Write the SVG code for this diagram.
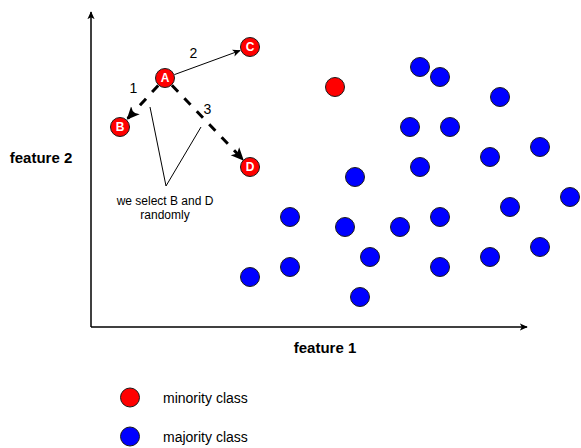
<svg xmlns="http://www.w3.org/2000/svg" width="581" height="448" viewBox="0 0 581 448">
  <defs>
    <style>
      text { font-family: "Liberation Sans", Arial, sans-serif; fill: #000; }
      .axis { stroke: #000; stroke-width: 1.5; fill: none; }
      .thin { stroke: #000; stroke-width: 1; fill: none; }
      .dash { stroke: #000; stroke-width: 3; fill: none; stroke-dasharray: 9 9; }
      .red { fill: #ff0000; stroke: #1a1a1a; stroke-width: 1; }
      .blue { fill: #0000ff; stroke: #1a1a1a; stroke-width: 1; }
      .nlabel { font-size: 12px; font-weight: bold; fill: #fff; text-anchor: middle; }
      .feat { font-size: 15px; font-weight: bold; text-anchor: middle; }
      .num { font-size: 14px; text-anchor: middle; }
      .note { font-size: 12px; text-anchor: middle; }
      .legend { font-size: 14px; }
    </style>
    <marker id="arrSmall" viewBox="0 0 10 10" refX="9" refY="5" markerWidth="8" markerHeight="8" markerUnits="userSpaceOnUse" orient="auto">
      <path d="M0,0.5 L10,5 L0,9.5 L2.5,5 Z" fill="#000"/>
    </marker>
    <marker id="arrBig" viewBox="0 0 10 10" refX="9" refY="5" markerWidth="13" markerHeight="13" markerUnits="userSpaceOnUse" orient="auto">
      <path d="M0,0.5 L10,5 L0,9.5 L2.5,5 Z" fill="#000"/>
    </marker>
  </defs>

  <rect width="581" height="448" fill="#fff"/>

  <g id="axes">
    <line class="axis" x1="91" y1="327" x2="91" y2="12" marker-end="url(#arrSmall)"/>
    <line class="axis" x1="91" y1="327" x2="527" y2="327" marker-end="url(#arrSmall)"/>
    <text class="feat" x="41" y="163">feature 2</text>
    <text class="feat" x="325" y="353">feature 1</text>
  </g>

  <g id="connectors">
    <line class="thin" x1="174.4" y1="74.6" x2="240" y2="50.6" marker-end="url(#arrSmall)"/>
    <line class="dash" x1="158.2" y1="85.4" x2="127.5" y2="118.8" marker-end="url(#arrBig)"/>
    <line class="dash" x1="171.9" y1="85.2" x2="243" y2="159.7" marker-end="url(#arrBig)"/>
    <polyline class="thin" points="150,107 166,186 201,127"/>
    <text class="num" x="133.5" y="93">1</text>
    <text class="num" x="193.5" y="57.5">2</text>
    <text class="num" x="207.5" y="114">3</text>
    <text class="note" x="165" y="205">we select B and D</text>
    <text class="note" x="165" y="219">randomly</text>
  </g>

  <g id="node-A"><circle class="red" cx="165" cy="78" r="9.5"/><text class="nlabel" x="165" y="82.3">A</text></g>
  <g id="node-B"><circle class="red" cx="120" cy="127" r="9.5"/><text class="nlabel" x="120" y="131.3">B</text></g>
  <g id="node-C"><circle class="red" cx="250" cy="47" r="9.5"/><text class="nlabel" x="250" y="51.3">C</text></g>
  <g id="node-D"><circle class="red" cx="250" cy="167" r="9.5"/><text class="nlabel" x="250" y="171.3">D</text></g>
  <g id="node-minority"><circle class="red" cx="335" cy="87" r="9.5"/></g>

  <g id="majority-points">
    <circle class="blue" cx="420" cy="67" r="9.5"/>
    <circle class="blue" cx="440" cy="77" r="9.5"/>
    <circle class="blue" cx="500" cy="97" r="9.5"/>
    <circle class="blue" cx="410" cy="127" r="9.5"/>
    <circle class="blue" cx="450" cy="127" r="9.5"/>
    <circle class="blue" cx="540" cy="147" r="9.5"/>
    <circle class="blue" cx="490" cy="157" r="9.5"/>
    <circle class="blue" cx="420" cy="167" r="9.5"/>
    <circle class="blue" cx="355" cy="177" r="9.5"/>
    <circle class="blue" cx="570" cy="197" r="9.5"/>
    <circle class="blue" cx="510" cy="207" r="9.5"/>
    <circle class="blue" cx="290" cy="217" r="9.5"/>
    <circle class="blue" cx="440" cy="217" r="9.5"/>
    <circle class="blue" cx="345" cy="227" r="9.5"/>
    <circle class="blue" cx="400" cy="227" r="9.5"/>
    <circle class="blue" cx="540" cy="247" r="9.5"/>
    <circle class="blue" cx="370" cy="257" r="9.5"/>
    <circle class="blue" cx="490" cy="257" r="9.5"/>
    <circle class="blue" cx="440" cy="267" r="9.5"/>
    <circle class="blue" cx="290" cy="267" r="9.5"/>
    <circle class="blue" cx="250" cy="277" r="9.5"/>
    <circle class="blue" cx="360" cy="297" r="9.5"/>
  </g>

  <g id="legend">
    <circle class="red" cx="130" cy="397.5" r="9.5"/>
    <text class="legend" x="163" y="403">minority class</text>
    <circle class="blue" cx="130" cy="436.5" r="9.5"/>
    <text class="legend" x="163" y="442">majority class</text>
  </g>
</svg>
